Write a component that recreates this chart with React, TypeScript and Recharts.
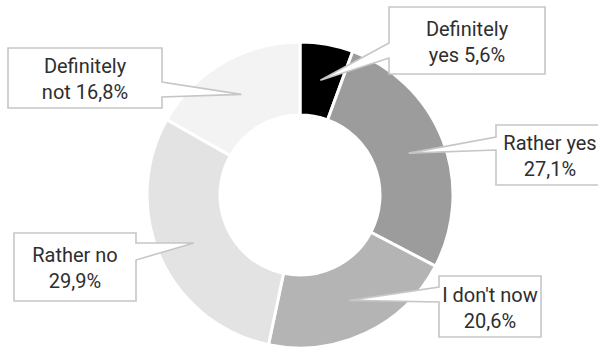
import React from 'react';
import { PieChart, Pie, Cell } from 'recharts';

const categories = ['Definitely yes', 'Rather yes', "I don't now", 'Rather no', 'Definitely not'];
const shares = [5.6, 27.1, 20.6, 29.9, 16.8];
const colors = ['#000000', '#9c9c9c', '#b4b4b4', '#e3e3e3', '#f3f3f3'];

// callout box layout (annotation positions only)
const boxes = [
  { x: 389, y: 7, w: 156, h: 67, side: 'left', b1: 43, b2: 58 },
  { x: 496, y: 125, w: 108, h: 60, side: 'left', b1: 137, b2: 150 },
  { x: 439, y: 276, w: 102, h: 61, side: 'left', b1: 287, b2: 302 },
  { x: 14, y: 233, w: 122, h: 68, side: 'right', b1: 243, b2: 260 },
  { x: 8, y: 48, w: 154, h: 60, side: 'right', b1: 82, b2: 97 },
];

const data = categories.map((name, i) => ({ name, value: shares[i] }));

const fmt = (v: number) => v.toFixed(1).replace('.', ',') + '%';

const splitLabel = (name: string, v: number) => {
  if (name.startsWith('Definitely ')) {
    return ['Definitely', name.slice('Definitely '.length) + ' ' + fmt(v)];
  }
  return [name, fmt(v)];
};

const RAD = Math.PI / 180;

const renderLabel = (props: any) => {
  const { cx, cy, midAngle, innerRadius, outerRadius, index, value, name } = props;
  const b = boxes[index];
  const r = (innerRadius + outerRadius) / 2;
  const tx = cx + r * Math.cos(-midAngle * RAD);
  const ty = cy + r * Math.sin(-midAngle * RAD);
  const { x, y, w, h } = b;
  let d: string;
  if (b.side === 'left') {
    d = `M${x},${y} L${x + w},${y} L${x + w},${y + h} L${x},${y + h} L${x},${b.b2} L${tx},${ty} L${x},${b.b1} Z`;
  } else {
    d = `M${x},${y} L${x + w},${y} L${x + w},${b.b1} L${tx},${ty} L${x + w},${b.b2} L${x + w},${y + h} L${x},${y + h} Z`;
  }
  const lines = splitLabel(name, value);
  const mx = x + w / 2;
  const my = y + h / 2;
  return (
    <g key={`lab-${index}`}>
      <path d={d} fill="#ffffff" stroke="#c6c6c6" strokeWidth={1.6} strokeLinejoin="miter" />
      <text x={mx} y={my - 5} textAnchor="middle" fontFamily="Roboto, sans-serif" fontSize={20} fill="#2e2e2e">
        {lines[0]}
      </text>
      <text x={mx} y={my + 21} textAnchor="middle" fontFamily="Roboto, sans-serif" fontSize={20} fill="#2e2e2e">
        {lines[1]}
      </text>
    </g>
  );
};

export default function App() {
  return (
    <div style={{ position: 'absolute', left: 0, top: 0, width: 598, height: 349, background: '#ffffff' }}>
      <PieChart width={598} height={349} margin={{ top: 0, right: 0, bottom: 0, left: 0 }}>
        <Pie
          data={data}
          dataKey="value"
          nameKey="name"
          cx={300}
          cy={195}
          innerRadius={80}
          outerRadius={153}
          startAngle={90}
          endAngle={-270}
          stroke="#ffffff"
          strokeWidth={3}
          label={renderLabel}
          labelLine={false}
          isAnimationActive={false}
        >
          {data.map((d, i) => (
            <Cell key={d.name} fill={colors[i]} />
          ))}
        </Pie>
      </PieChart>
    </div>
  );
}
